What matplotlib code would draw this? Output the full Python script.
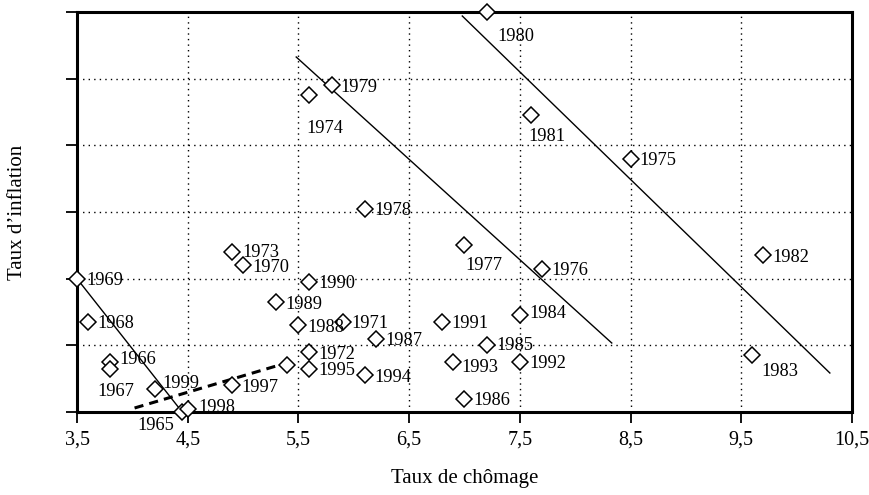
import matplotlib
matplotlib.use("Agg")
import matplotlib.pyplot as plt

plt.rcParams['font.family'] = ['Liberation Serif', 'DejaVu Serif']

years = [1965, 1966, 1967, 1968, 1969, 1970, 1971, 1972, 1973, 1974,
         1975, 1976, 1977, 1978, 1979, 1980, 1981, 1982, 1983, 1984,
         1985, 1986, 1987, 1988, 1989, 1990, 1991, 1992, 1993, 1994,
         1995, 1996, 1997, 1998, 1999]
chomage = [4.45, 3.8, 3.8, 3.6, 3.5, 5.0, 5.9, 5.6, 4.9, 5.6,
           8.5, 7.7, 7.0, 6.1, 5.8, 7.2, 7.6, 9.7, 9.6, 7.5,
           7.2, 7.0, 6.2, 5.5, 5.3, 5.6, 6.8, 7.5, 6.9, 6.1,
           5.6, 5.4, 4.9, 4.5, 4.2]
inflation = [1.5, 3.0, 2.8, 4.2, 5.5, 5.9, 4.2, 3.3, 6.3, 11.0,
             9.1, 5.8, 6.5, 7.6, 11.3, 13.5, 10.4, 6.2, 3.2, 4.4,
             3.5, 1.9, 3.7, 4.1, 4.8, 5.4, 4.2, 3.0, 3.0, 2.6,
             2.8, 2.9, 2.3, 1.6, 2.2]
labels = ["1965", "1966", "1967", "1968", "1969", "1970", "1971", "1972", "1973", "1974",
          "1975", "1976", "1977", "1978", "1979", "1980", "1981", "1982", "1983", "1984",
          "1985", "1986", "1987", "1988", "1989", "1990", "1991", "1992", "1993", "1994",
          "1995", "", "1997", "1998", "1999"]

# Phillips curve lines (endpoints)
line1_x = [3.5, 4.45]
line1_y = [5.5, 1.5]
line2_x = [5.48, 8.33]
line2_y = [12.15, 3.57]
line3_x = [6.98, 10.3]
line3_y = [13.38, 2.67]
dash_x = [4.02, 5.33]
dash_y = [1.62, 2.91]

xticks = [3.5, 4.5, 5.5, 6.5, 7.5, 8.5, 9.5, 10.5]
xticklabels = ["3,5", "4,5", "5,5", "6,5", "7,5", "8,5", "9,5", "10,5"]
yticks = [1.5, 3.5, 5.5, 7.5, 9.5, 11.5, 13.5]

# label placement (pixel offsets, alignment) -- default: right of marker
default_off = (9, 0, 'left')
offsets = {
    "1980": (11, -22, 'left'),
    "1974": (-3, -31, 'left'),
    "1981": (-3, -19, 'left'),
    "1977": (1, -18, 'left'),
    "1983": (9, -14, 'left'),
    "1967": (-13, -21, 'left'),
    "1965": (-8, -12, 'right'),
    "1999": (8, 7, 'left'),
    "1966": (9, 4, 'left'),
    "1998": (11, 3, 'left'),
    "1973": (10, 2, 'left'),
    "1993": (8, -4, 'left'),
    "1984": (9, 4, 'left'),
    "1985": (10, 2, 'left'),
}

fig = plt.figure(figsize=(8.7, 4.95), dpi=100)
ax = fig.add_axes([77/870, 1-412/495, (852-77)/870, 400/495])

ax.set_xlim(3.5, 10.5)
ax.set_ylim(1.5, 13.5)
ax.set_xticks(xticks)
ax.set_xticklabels(xticklabels)
ax.set_yticks(yticks)
ax.set_yticklabels([])
ax.grid(True, color='black', linestyle=(0, (1, 3)), linewidth=1.0)
ax.set_axisbelow(True)

for s in ax.spines.values():
    s.set_linewidth(2.2)
ax.tick_params(axis='both', direction='out', length=8, width=1.3, labelsize=14.5,
               pad=5)

ax.plot(line1_x, line1_y, color='black', linewidth=1.0, clip_on=False)
ax.plot(line2_x, line2_y, color='black', linewidth=1.0, clip_on=False)
ax.plot(line3_x, line3_y, color='black', linewidth=1.0, clip_on=False)
ax.plot(dash_x, dash_y, color='black', linewidth=2.2, linestyle=(0, (3, 2)), clip_on=False)

ax.plot(chomage, inflation, linestyle='none', marker='D', markersize=8,
        markerfacecolor='white', markeredgecolor='black', markeredgewidth=1.1,
        clip_on=False, zorder=5)

for x, y, lab in zip(chomage, inflation, labels):
    if not lab:
        continue
    dx, dy, ha = offsets.get(lab, default_off)
    ax.annotate(lab, (x, y), xytext=(dx * 0.72, dy * 0.72), textcoords='offset points',
                ha=ha, va='center_baseline', fontsize=13.2, zorder=6)

ax.set_xlabel("Taux de chômage", fontsize=15)
ax.xaxis.set_label_coords(0.5, -(478 - 412) / 400, transform=ax.transAxes)
ax.xaxis.label.set_verticalalignment('center')
ax.set_ylabel("Taux d\u2019inflation", fontsize=15)
ax.yaxis.set_label_coords(-(77 - 17) / 775, 0.5, transform=ax.transAxes)
ax.yaxis.label.set_verticalalignment('center')

fig.savefig("out.png", dpi=100)
